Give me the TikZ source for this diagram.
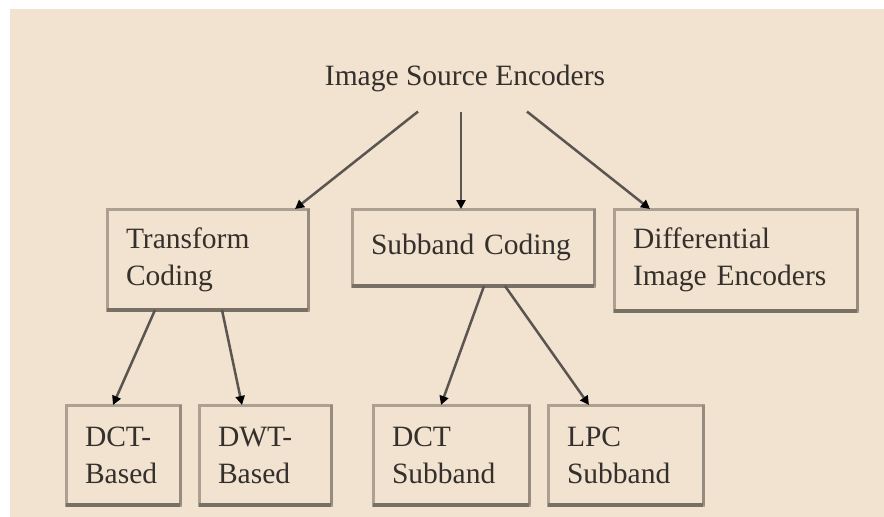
\documentclass[tikz,border=0pt]{standalone}
\usepackage{fontspec}
\setmainfont{Liberation Serif}
\usetikzlibrary{arrows.meta}
\definecolor{bg}{RGB}{242,226,208}
\definecolor{boxline}{RGB}{172,160,146}
\definecolor{boxdark}{RGB}{120,111,101}
\definecolor{boxmid}{RGB}{150,139,127}
\definecolor{txt}{RGB}{52,48,44}
\definecolor{arrline}{RGB}{90,85,80}
\begin{document}
\begin{tikzpicture}[x=1pt,y=1pt,
  box/.style={draw=boxline, line width=3pt, rectangle, anchor=north west, outer sep=0pt,
    align=left, inner xsep=19pt, inner ysep=2pt,
    font=\fontsize{29.5}{37}\selectfont, text=txt},
  title/.style={font=\fontsize{29.5}{37}\selectfont, text=txt, inner sep=0pt},
  arr/.style={draw=arrline, line width=2.5pt, -{Triangle[length=9pt,width=9pt,color=black]}},
  bottomedge/.style={draw=boxdark, line width=3.2pt},
  rightedge/.style={draw=boxmid, line width=3pt}]

\useasboundingbox (0,0) rectangle (884,-517);
\fill[white] (0,0) rectangle (884,-517);
\fill[bg] (10,-9) rectangle (884,-517);

\node[title, anchor=base] (src) at (465,-85) {Image Source Encoders};

\node[box, text width=163pt, minimum height=101pt] (tc) at (107,-209) {Transform\\Coding};
\node[box, text width=204pt, minimum height=77pt] (sc) at (352,-209) {Subband Coding};
\node[box, text width=205pt, minimum height=102pt] (de) at (614,-209) {Differential\\Image Encoders};

\node[box, text width=76pt, minimum height=100pt] (db) at (66,-405) {DCT-\\Based};
\node[box, text width=94pt, minimum height=100pt] (dw) at (199,-405) {DWT-\\Based};
\node[box, text width=118pt, minimum height=100pt] (ds) at (373,-405) {DCT\\Subband};
\node[box, text width=117pt, minimum height=100pt] (lp) at (548,-405) {LPC\\Subband};

\foreach \n in {tc,sc,de,db,dw,ds,lp}{
  \draw[rightedge] (\n.north east) -- (\n.south east);
  \draw[bottomedge] (\n.south west) -- (\n.south east);
}

\draw[arr] ([xshift=-47pt,yshift=-20pt]src.south) -- ([xshift=188pt]tc.north west);
\draw[arr] ([xshift=-4pt,yshift=-20pt]src.south) -- ([xshift=109pt]sc.north west);
\draw[arr] ([xshift=62pt,yshift=-20pt]src.south) -- ([xshift=36pt]de.north west);

\draw[arr] ([xshift=48pt]tc.south west) -- ([xshift=47pt]db.north west);
\draw[arr] ([xshift=115pt]tc.south west) -- ([xshift=43pt]dw.north west);
\draw[arr] ([xshift=132pt]sc.south west) -- ([xshift=68pt]ds.north west);
\draw[arr] ([xshift=153pt]sc.south west) -- ([xshift=41pt]lp.north west);
\end{tikzpicture}
\end{document}
